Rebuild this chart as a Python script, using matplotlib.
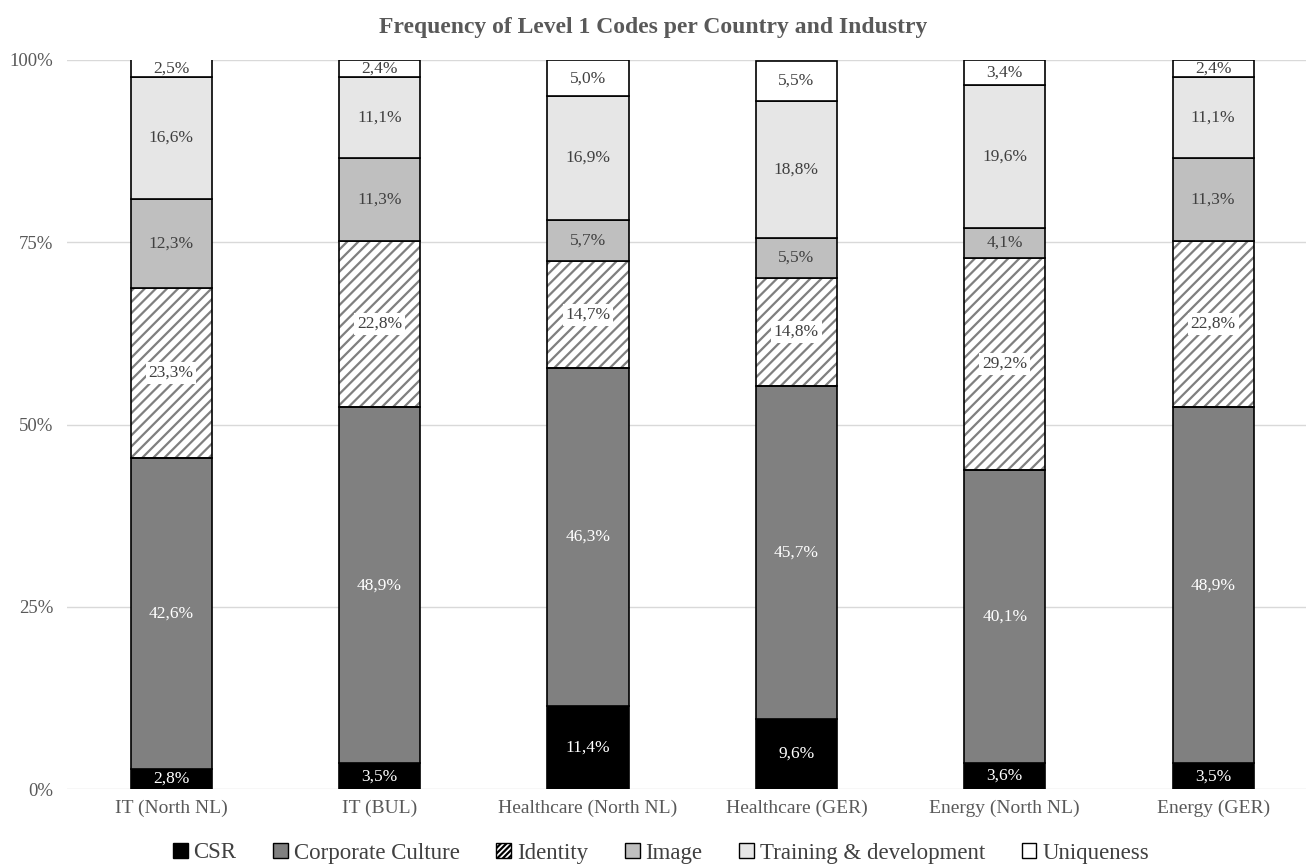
import numpy as np
import matplotlib
matplotlib.use('Agg')
import matplotlib.pyplot as plt
import matplotlib.patches as mpatches
from matplotlib.ticker import FuncFormatter

plt.rcParams['font.family'] = ['Liberation Serif', 'DejaVu Serif']
plt.rcParams['hatch.linewidth'] = 1.6

# Datos (% por categoría)
grupos = ['IT (North NL)', 'IT (BUL)', 'Healthcare (North NL)',
          'Healthcare (GER)', 'Energy (North NL)', 'Energy (GER)']
series = ['CSR', 'Corporate Culture', 'Identity', 'Image',
          'Training & development', 'Uniqueness']
csr = [2.8, 3.5, 11.4, 9.6, 3.6, 3.5]
cultura = [42.6, 48.9, 46.3, 45.7, 40.1, 48.9]
identidad = [23.3, 22.8, 14.7, 14.8, 29.2, 22.8]
imagen = [12.3, 11.3, 5.7, 5.5, 4.1, 11.3]
formacion = [16.6, 11.1, 16.9, 18.8, 19.6, 11.1]
unicidad = [2.5, 2.4, 5.0, 5.5, 3.4, 2.4]

valores = [csr, cultura, identidad, imagen, formacion, unicidad]
colores = ['#000000', '#808080', '#ffffff', '#bfbfbf', '#e6e6e6', '#ffffff']
texto_col = ['white', 'white', '#404040', '#404040', '#404040', '#404040']

fig = plt.figure(figsize=(13.06, 8.67), dpi=100)
ax = fig.add_axes([67 / 1306, 78 / 867, 1239 / 1306, 729 / 867])

x = np.arange(len(grupos))
ancho = 0.39
base = np.zeros(len(grupos))

for i, (vals, nombre) in enumerate(zip(valores, series)):
    vals = np.array(vals)
    if nombre == 'Identity':
        # rayado gris + borde negro por separado
        ax.bar(x, vals, ancho, bottom=base, color='white', edgecolor='#7f7f7f',
               hatch='///', linewidth=0, zorder=2)
        ax.bar(x, vals, ancho, bottom=base, fill=False, edgecolor='black',
               linewidth=1.2, zorder=3)
    else:
        ax.bar(x, vals, ancho, bottom=base, color=colores[i], edgecolor='black',
               linewidth=1.2, zorder=3)
    for xi, b, v in zip(x, base, vals):
        txt = f'{v:.1f}%'.replace('.', ',')
        kw = {}
        if nombre == 'Identity':
            kw['bbox'] = dict(facecolor='white', edgecolor='none', pad=2)
        ax.text(xi, b + v / 2, txt, ha='center', va='center', fontsize=12.5,
                color=texto_col[i], zorder=4, **kw)
    base += vals

ax.set_ylim(0, 100)
ax.set_xlim(-0.5, -0.5 + 1239 / 208.4)
ax.set_yticks([0, 25, 50, 75, 100])
ax.yaxis.set_major_formatter(FuncFormatter(lambda v, p: f'{v:.0f}%'))
ax.set_xticks(x)
ax.set_xticklabels(grupos)
ax.tick_params(length=0, labelcolor='#595959')
ax.tick_params(axis='y', pad=10, labelsize=13.5)
ax.tick_params(axis='x', pad=8, labelsize=14)
ax.grid(axis='y', color='#d9d9d9', linewidth=1, zorder=0)
ax.set_axisbelow(True)
for s in ax.spines.values():
    s.set_visible(False)

fig.text(0.5, 1 - 28 / 867, 'Frequency of Level 1 Codes per Country and Industry',
         ha='center', va='center', fontsize=17, fontweight='bold', color='#595959')

# Leyenda
handles = []
for i, nombre in enumerate(series):
    if nombre == 'Identity':
        h = mpatches.Patch(facecolor='white', edgecolor='black', hatch='//////',
                           linewidth=1, label=nombre)
    else:
        h = mpatches.Patch(facecolor=colores[i], edgecolor='black', linewidth=1,
                           label=nombre)
    handles.append(h)
fig.legend(handles=handles, loc='center', bbox_to_anchor=(0.506, 1 - 853 / 867),
           ncol=6, frameon=False, fontsize=16.5, handlelength=0.65, handleheight=0.65,
           handletextpad=0.25, columnspacing=1.6, labelcolor='#404040')

fig.savefig('out.png', dpi=100)
